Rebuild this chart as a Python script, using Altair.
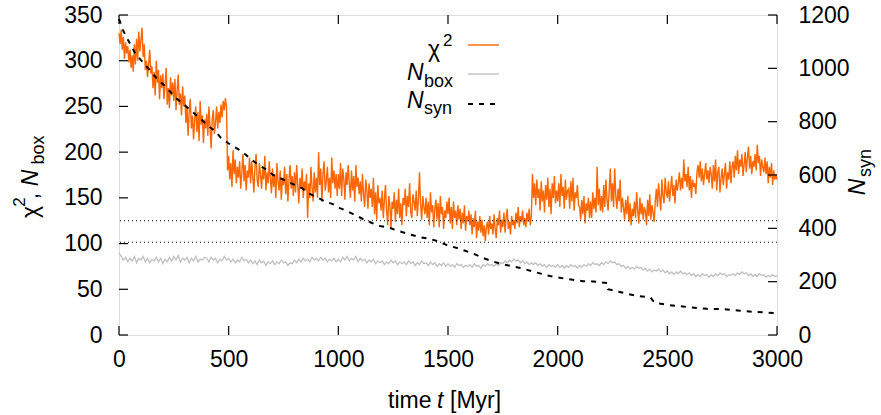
import altair as alt
import pandas as pd

FONT = "Liberation Sans"

# chi^2, sampled every 5 Myr from t=0 to t=3000
chi2_t = list(range(0, 3001, 5))
chi2_v = [
    330, 318, 334, 312, 326, 302, 320, 308, 316, 298,
    312, 292, 306, 288, 318, 296, 324, 300, 332, 310,
    322, 336, 304, 318, 290, 300, 282, 296, 312, 286,
    294, 270, 288, 262, 300, 276, 290, 258, 284, 270,
    286, 258, 274, 292, 252, 270, 248, 282, 262, 276,
    256, 280, 246, 268, 285, 252, 264, 240, 272, 250,
    262, 232, 250, 218, 244, 258, 226, 240, 214, 236,
    250, 222, 244, 212, 256, 230, 240, 210, 236, 226,
    242, 218, 250, 228, 204, 236, 246, 220, 232, 250,
    226, 244, 232, 252, 238, 256, 246, 259, 250, 180,
    196, 170, 188, 162, 202, 176, 192, 166, 184, 172,
    190, 160, 178, 198, 168, 186, 158, 180, 172, 194,
    166, 190, 174, 156, 184, 198, 170, 162, 188, 176,
    160, 182, 170, 196, 158, 178, 166, 190, 172, 155,
    182, 162, 176, 150, 188, 168, 158, 180, 148, 172,
    164, 184, 154, 176, 146, 170, 186, 160, 174, 152,
    178, 156, 186, 164, 144, 172, 160, 182, 150, 168,
    158, 176, 128, 166, 150, 184, 162, 146, 178, 156,
    172, 150, 200, 164, 182, 146, 176, 190, 158, 168,
    184, 156, 172, 150, 194, 166, 180, 160, 176, 152,
    176, 160, 188, 152, 182, 170, 148, 178, 164, 186,
    166, 150, 180, 158, 174, 146, 186, 162, 172, 154,
    168, 146, 176, 154, 140, 170, 158, 138, 166, 150,
    160, 140, 172, 132, 156, 126, 164, 144, 150, 136,
    158, 128, 148, 164, 136, 120, 152, 142, 116, 146,
    138, 156, 124, 148, 132, 160, 128, 144, 120, 150,
    142, 160, 130, 152, 140, 166, 134, 128, 154, 146,
    136, 158, 130, 148, 178, 142, 126, 152, 140, 132,
    150, 128, 146, 120, 156, 134, 142, 118, 138, 148,
    126, 144, 118, 152, 132, 140, 116, 136, 128, 146,
    132, 150, 122, 140, 116, 146, 128, 136, 120, 142,
    126, 138, 116, 134, 122, 142, 114, 130, 124, 136,
    120, 132, 110, 128, 118, 136, 106, 124, 114, 130,
    112, 126, 108, 120, 103, 118, 124, 110, 130, 116,
    122, 110, 132, 116, 106, 128, 120, 136, 112, 126,
    118, 134, 112, 128, 138, 116, 124, 110, 130, 120,
    126, 116, 134, 122, 140, 118, 130, 124, 136, 120,
    128, 118, 134, 124, 138, 120, 130, 176, 150, 166,
    142, 170, 150, 160, 136, 168, 146, 158, 134, 164,
    148, 172, 140, 160, 132, 166, 150, 174, 144, 158,
    146, 166, 140, 176, 152, 162, 138, 170, 148, 158,
    160, 138, 168, 146, 172, 136, 156, 150, 164, 142,
    140, 126, 148, 132, 152, 122, 144, 136, 150, 128,
    146, 128, 156, 138, 150, 134, 184, 142, 160, 136,
    152, 134, 164, 140, 170, 148, 136, 158, 182, 146,
    166, 140, 182, 152, 138, 160, 146, 170, 134, 150,
    140, 126, 148, 132, 152, 124, 144, 120, 138, 130,
    146, 128, 156, 136, 122, 150, 132, 144, 126, 140,
    136, 120, 148, 130, 154, 126, 142, 134, 124, 146,
    160, 140, 166, 150, 136, 170, 152, 144, 172, 156,
    150, 168, 146, 160, 174, 152, 164, 144, 170, 158,
    166, 178, 158, 172, 160, 192, 168, 176, 162, 184,
    158, 174, 150, 170, 162, 166, 154, 178, 186, 172,
    190, 168, 182, 164, 176, 188, 170, 180, 166, 184,
    176, 160, 186, 168, 192, 158, 178, 184, 156, 172,
    182, 164, 176, 188, 160, 178, 170, 190, 166, 184,
    190, 172, 196, 180, 202, 176, 192, 184, 198, 174,
    186, 200, 178, 194, 206, 182, 196, 176, 190, 184,
    198, 180, 208, 188, 196, 174, 192, 184, 178, 194,
    176, 190, 166, 184, 172, 188, 164, 180, 170, 176,
    170,
]

# N_box, sampled every 10 Myr
nbox_t = list(range(0, 3001, 10))
nbox_v = [
    90, 86, 82, 85, 80, 84, 81, 86, 79, 84,
    82, 86, 80, 84, 79, 83, 81, 85, 80, 84,
    78, 83, 80, 85, 81, 86, 82, 87, 80, 84,
    82, 85, 79, 84, 81, 86, 80, 83, 82, 85,
    84, 80, 85, 82, 84, 79, 83, 81, 86, 82,
    84, 80, 83, 79, 82, 80, 85, 81, 83, 79,
    82, 78, 81, 77, 82, 79, 81, 76, 80, 78,
    81, 77, 80, 78, 82, 79, 80, 76, 79, 78,
    82, 79, 83, 80, 84, 81, 83, 80, 85, 82,
    84, 81, 85, 82, 84, 80, 83, 81, 84, 80,
    83, 80, 85, 82, 86, 81, 84, 82, 86, 80,
    84, 81, 83, 79, 82, 80, 83, 78, 81, 79,
    81, 77, 80, 78, 82, 79, 81, 77, 80, 78,
    80, 77, 81, 78, 80, 76, 79, 77, 81, 78,
    79, 76, 80, 77, 79, 75, 78, 76, 79, 75,
    78, 75, 77, 74, 78, 76, 77, 74, 76, 75,
    77, 74, 78, 75, 76, 73, 77, 75, 78, 76,
    77, 75, 78, 76, 79, 78, 81, 79, 82, 80,
    83, 81, 82, 79, 81, 78, 80, 77, 79, 77,
    79, 76, 78, 75, 77, 74, 77, 75, 76, 74,
    77, 74, 76, 73, 76, 74, 77, 75, 76, 73,
    76, 74, 77, 75, 78, 76, 79, 77, 78, 76,
    79, 77, 80, 78, 81, 79, 80, 77, 78, 75,
    76, 73, 75, 72, 74, 72, 75, 73, 74, 71,
    73, 70, 72, 69, 71, 70, 72, 69, 71, 68,
    70, 67, 69, 66, 69, 67, 70, 67, 68, 66,
    68, 65, 67, 64, 66, 64, 67, 65, 66, 63,
    66, 64, 67, 65, 68, 66, 67, 64, 66, 65,
    67, 65, 68, 66, 69, 67, 68, 65, 67, 64,
    66, 64, 67, 65, 66, 63, 65, 64, 66, 64,
    65,
]

# N_syn (right axis)
nsyn_t = [0, 20, 40, 73, 100, 128, 155, 178, 210, 255, 287, 346, 378, 406, 438,
          465, 497, 543, 574, 606, 638, 675, 702, 743, 793, 834, 862, 903, 935,
          975, 1007, 1040, 1076, 1112, 1153, 1190, 1236, 1290, 1336, 1372, 1418,
          1454, 1495, 1541, 1582, 1618, 1659, 1700, 1746, 1792, 1837, 1887, 1965,
          2042, 2115, 2161, 2225, 2229, 2284, 2362, 2421, 2444, 2512, 2590, 2681,
          2754, 2831, 2909, 3000]
nsyn_v = [1185, 1140, 1108, 1058, 1031, 1005, 979, 956, 934, 892, 870, 829, 806,
          784, 765, 739, 720, 697, 679, 656, 637, 619, 600, 585, 566, 551, 532,
          517, 502, 491, 476, 465, 450, 435, 420, 409, 401, 386, 375, 367, 360,
          352, 337, 326, 315, 304, 289, 277, 266, 258, 250, 238, 221, 210, 202,
          201, 195, 172, 161, 146, 142, 120, 112, 105, 98, 97, 91, 86, 82]

ref_levels = [125, 101.5]
x_ticks = [0, 500, 1000, 1500, 2000, 2500, 3000]
yl_ticks = [0, 50, 100, 150, 200, 250, 300, 350]
yr_ticks = [0, 200, 400, 600, 800, 1000, 1200]

W, H = 658, 320
ORANGE = "#ff6600"
GRAY = "#c0c0c0"

chi2_df = pd.DataFrame({"t": chi2_t, "v": chi2_v})
nbox_df = pd.DataFrame({"t": nbox_t, "v": nbox_v})
nsyn_df = pd.DataFrame({"t": nsyn_t, "n": nsyn_v})
ref_df = pd.DataFrame({"v": ref_levels})
xt_df = pd.DataFrame({"t": x_ticks})
ylt_df = pd.DataFrame({"v": yl_ticks})
yrt_df = pd.DataFrame({"n": yr_ticks})
one = pd.DataFrame({"a": [0]})

xscale = alt.Scale(domain=[0, 3000], nice=False, zero=False)
ylscale = alt.Scale(domain=[0, 350], nice=False)
yrscale = alt.Scale(domain=[0, 1200], nice=False)

common = dict(format="d", ticks=False, domain=False, grid=False, title=None,
              labelFontSize=23, labelFont=FONT, labelColor="black",
              labelFlush=False, labelOverlap=False)
x_axis = alt.Axis(values=x_ticks, labelPadding=13, **common)
yl_axis = alt.Axis(orient="left", values=yl_ticks, labelPadding=17, **common)
yr_axis = alt.Axis(orient="right", values=yr_ticks, labelPadding=21, labelAlign="left",
                   **common)

X = alt.X("t:Q", scale=xscale, axis=x_axis)
YL = alt.Y("v:Q", scale=ylscale, axis=yl_axis)
YR = alt.Y("n:Q", scale=yrscale, axis=yr_axis)

chi2_line = alt.Chart(chi2_df).mark_line(color=ORANGE, strokeWidth=1.4).encode(x=X, y=YL)
nbox_line = alt.Chart(nbox_df).mark_line(color=GRAY, strokeWidth=1.3).encode(x=X, y=YL)
ref_rules = alt.Chart(ref_df).mark_rule(color="black", strokeWidth=1, strokeDash=[1, 3]).encode(y=YL)
yl_tick_marks = alt.Chart(ylt_df).mark_rule(color="black", strokeWidth=1.2).encode(
    y=YL, x=alt.value(0), x2=alt.value(9))
xb_ticks = alt.Chart(xt_df).mark_rule(color="black", strokeWidth=1.2).encode(
    x=X, y=alt.value(H), y2=alt.value(H - 9))
xt_ticks = alt.Chart(xt_df).mark_rule(color="black", strokeWidth=1.2).encode(
    x=X, y=alt.value(0), y2=alt.value(9))


def txt(s, x, y, size=23, style="normal", angle=0, align="left"):
    return alt.Chart(one).mark_text(
        text=s, font=FONT, fontSize=size, fontStyle=style, angle=angle,
        align=align, baseline="alphabetic", color="black",
    ).encode(x=alt.value(x), y=alt.value(y))


def sample(y, color, dash=None, x1=349, x2=380, width=1.4):
    kw = dict(color=color, strokeWidth=width)
    if dash:
        kw["strokeDash"] = dash
    return alt.Chart(one).mark_rule(**kw).encode(
        x=alt.value(x1), x2=alt.value(x2), y=alt.value(y))


texts = [
    # legend
    txt("χ", 309, 42), txt("2", 324, 31, size=17),
    txt("N", 288, 65, style="italic"), txt("box", 305, 72, size=18),
    txt("N", 288, 93, style="italic"), txt("syn", 305, 99, size=18),
    # left axis title (rotated)
    txt("χ", -81, 197, angle=270, align="center"),
    txt("2", -94, 187, size=17, angle=270, align="center"),
    txt(",", -81, 181, angle=270, align="center"),
    txt("N", -81, 163, style="italic", angle=270, align="center"),
    txt("box", -75, 135, size=18, angle=270, align="center"),
    # right axis title (rotated)
    txt("N", 746, 172, style="italic", angle=270, align="center"),
    txt("syn", 752, 148, size=18, angle=270, align="center"),
    # x axis title
    txt("time", 269, 393), txt("t", 318, 393, style="italic"),
    txt("[Myr]", 331, 393),
]

legend_lines = [
    sample(30, ORANGE),
    sample(59, GRAY),
    sample(89, "black", dash=[5, 6], x2=376, width=2),
]

left = alt.layer(chi2_line, nbox_line, ref_rules, yl_tick_marks, xb_ticks, xt_ticks,
                 *legend_lines, *texts)

nsyn_line = alt.Chart(nsyn_df).mark_line(color="black", strokeWidth=2, strokeDash=[5, 6]).encode(
    x=X, y=YR)
yr_tick_marks = alt.Chart(yrt_df).mark_rule(color="black", strokeWidth=1.2).encode(
    y=YR, x=alt.value(W - 9), x2=alt.value(W))
right = alt.layer(nsyn_line, yr_tick_marks)

chart = alt.layer(left, right).resolve_scale(y="independent").properties(
    width=W, height=H,
    autosize=alt.AutoSizeParams(type="none"),
    padding={"left": 119, "top": 15, "right": 104, "bottom": 80},
).configure_view(stroke="black", strokeWidth=1.6).configure(background="white")

chart.save("out.html", embed_options={"renderer": "svg", "actions": False})
